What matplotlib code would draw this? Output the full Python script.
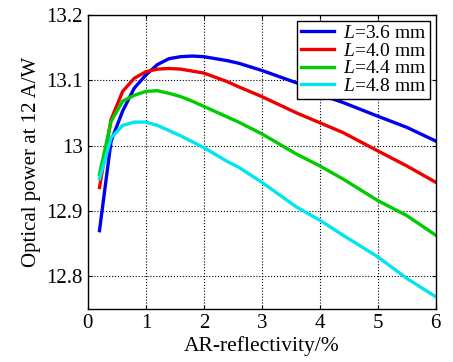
import matplotlib
matplotlib.use("Agg")
import matplotlib.pyplot as plt

plt.rcParams['font.family'] = ['Liberation Serif', 'DejaVu Serif']
plt.rcParams['mathtext.fontset'] = 'custom'
plt.rcParams['mathtext.rm'] = 'Liberation Serif'
plt.rcParams['mathtext.it'] = 'Liberation Serif:italic'

# AR reflectivity (%)
refl = [0.2, 0.4, 0.6, 0.8, 1.0, 1.2, 1.4, 1.6, 1.8, 2.0, 2.4, 2.6, 3.0, 3.6, 4.0, 4.4, 5.0, 5.5, 6.0]

p_36 = [12.870, 13.007, 13.053, 13.088, 13.108, 13.124, 13.133, 13.136, 13.137, 13.136,
        13.130, 13.126, 13.115, 13.096, 13.078, 13.066, 13.045, 13.028, 13.007]
p_40 = [12.936, 13.040, 13.083, 13.103, 13.113, 13.117, 13.118, 13.117, 13.114, 13.111,
        13.098, 13.090, 13.075, 13.050, 13.035, 13.020, 12.992, 12.969, 12.944]
p_44 = [12.956, 13.037, 13.068, 13.077, 13.083, 13.084, 13.080, 13.075, 13.068, 13.060,
        13.044, 13.036, 13.018, 12.987, 12.969, 12.949, 12.916, 12.893, 12.863]
p_48 = [12.949, 13.012, 13.031, 13.036, 13.036, 13.031, 13.023, 13.015, 13.006, 12.997,
        12.976, 12.967, 12.944, 12.906, 12.886, 12.863, 12.830, 12.797, 12.769]

series = [p_36, p_40, p_44, p_48]
labels = ['$L$=3.6 mm', '$L$=4.0 mm', '$L$=4.4 mm', '$L$=4.8 mm']
colors = ['#0000ee', '#ee0000', '#00cc00', '#00e5ee']

fig = plt.figure(figsize=(4.53, 3.62), dpi=100)
ax = fig.add_axes([0.194, 0.146, 0.768, 0.813])

for y, lab, c in zip(series, labels, colors):
    ax.plot(refl, y, color=c, lw=2.4, label=lab)

ax.set_xlim(0, 6)
ax.set_ylim(12.75, 13.2)
ax.set_xticks([0, 1, 2, 3, 4, 5, 6])
ax.set_yticks([12.8, 12.9, 13.0, 13.1, 13.2])
ax.set_yticklabels(['12.8', '12.9', '13', '13.1', '13.2'])
ax.grid(True, color='black', linestyle=':', linewidth=0.8)
ax.tick_params(direction='in', top=True, right=True, labelsize=15, length=3)
for s in ax.spines.values():
    s.set_linewidth(1.0)

ax.set_xlabel('AR-reflectivity/%', fontsize=15.5, labelpad=2)
ax.set_ylabel('Optical power at 12 A/W', fontsize=15, labelpad=4)

leg = ax.legend(loc='upper right', fontsize=14, fancybox=False, framealpha=1,
                edgecolor='black', handlelength=1.7, borderpad=0.2,
                labelspacing=0.0, handletextpad=0.45, borderaxespad=0.3)
leg.get_frame().set_linewidth(1.0)

fig.savefig('out.png', dpi=100)
